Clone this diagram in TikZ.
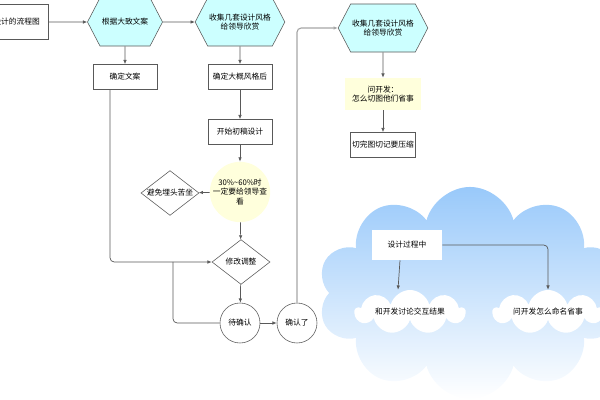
\documentclass[tikz,border=0pt]{standalone}
\usepackage{fontspec}
\setmainfont{Noto Sans CJK SC}
\usetikzlibrary{arrows.meta, positioning, shapes.geometric, shapes.symbols}
\definecolor{flowline}{HTML}{595959}
\definecolor{hexcyan}{HTML}{CCFFFF}
\definecolor{noteyellow}{HTML}{FFFFDC}
\definecolor{cloudblue}{HTML}{99C9FA}

\begin{document}
\begin{tikzpicture}[x=0.025cm, y=-0.025cm,
  every node/.style={font=\fontsize{5.5}{7}\selectfont, align=center, inner sep=1pt},
  hexbox/.style={signal, signal to=west and east, signal pointer angle=125, draw=flowline, fill=hexcyan, minimum width=1.875cm, minimum height=1.2cm},
  stepbox/.style={rectangle, draw=flowline, fill=white, minimum width=1.6cm, minimum height=0.625cm},
  judge/.style={diamond, draw=flowline, fill=white, inner sep=-3pt, minimum width=1.45cm, minimum height=1.12cm},
  waitc/.style={circle, draw=flowline, fill=white, minimum size=1cm},
  puff/.style={cloud, cloud puffs=9, cloud ignores aspect, fill=white, minimum width=2.75cm, minimum height=1.1cm},
  link/.style={draw=flowline, line width=0.5pt, -{Latex[length=3pt,width=2.5pt]}}]
  \useasboundingbox (0,0) rectangle (600,400);
  % left column
  \node[stepbox, minimum height=0.875cm, anchor=east] (tit) at (49,22) {设计的流程图};
  \node[hexbox] (gjwa) at (125,22) {根据大致文案};
  \node[hexbox] (sjfg) at (240,22) {收集几套设计风格\\给领导欣赏};
  \node[stepbox] (qdwa) at (125,77) {确定文案};
  \node[stepbox] (qdfg) at (240,77) {确定大概风格后};
  \node[stepbox] (kscg) at (240,132) {开始初稿设计};
  \node[circle, fill=noteyellow, minimum size=1.4cm, inner sep=0pt] (cgck) at (240,192) {30\%\textasciitilde60\%时\\一定要给领导查\\看};
  \node[judge] (bmtk) at (170,193) {避免埋头苦坐};
  \node[judge] (xgtz) at (241,262) {修改调整};
  \node[waitc] (dqr) at (240,323) {待确认};
  \node[waitc] (qrl) at (297,323) {确认了};
  % right column
  \node[hexbox] (sjfg2) at (383,28) {收集几套设计风格\\给领导欣赏};
  \node[fill=noteyellow, minimum width=1.9cm, minimum height=0.8cm] (wkf) at (383,94) {问开发：\\怎么切图他们省事};
  \node[stepbox] (ysh) at (383,145) {切完图切记要压缩};
  % cloud
  \node[cloud, cloud puffs=10, cloud ignores aspect, top color=cloudblue, bottom color=white, minimum width=7.6cm, minimum height=5.3cm] (dayun) at (470,293) {};
  \node[fill=white, minimum width=1.75cm, minimum height=0.75cm] (sjgc) at (407,245) {设计过程中};
  \node[puff] (yun1) at (410,312) {和开发讨论交互结果};
  \node[puff] (yun2) at (548,312) {问开发怎么命名省事};
  % connectors
  \draw[link] (tit) -- (gjwa);
  \draw[link] (gjwa) -- (sjfg);
  \draw[link] (gjwa) -- (qdwa);
  \draw[link] (sjfg) -- (qdfg);
  \draw[link] (qdfg) -- (kscg);
  \draw[link] (kscg) -- (cgck);
  \draw[link] (cgck) -- (bmtk);
  \draw[link] (cgck) -- (xgtz);
  \draw[link] (xgtz) -- (dqr);
  \draw[link] (dqr) -- (qrl);
  \draw[link, rounded corners=3pt] ([xshift=-0.375cm]qdwa.south) |- (xgtz.west);
  \coordinate (huiliu) at (173,262);
  \draw[flowline, line width=0.5pt, rounded corners=3pt] (dqr.west) -| (huiliu);
  \draw[link, draw=gray!70, line width=0.8pt, rounded corners=3pt] (qrl.north) |- (sjfg2.west);
  \draw[link] (sjfg2) -- (wkf);
  \draw[link] (wkf) -- (ysh);
  \draw[link] ([xshift=-0.175cm]sjgc.south) -- ([xshift=-0.3cm]yun1.north);
  \draw[link, rounded corners=3pt] (sjgc.east) -| (yun2.north);
\end{tikzpicture}
\end{document}
